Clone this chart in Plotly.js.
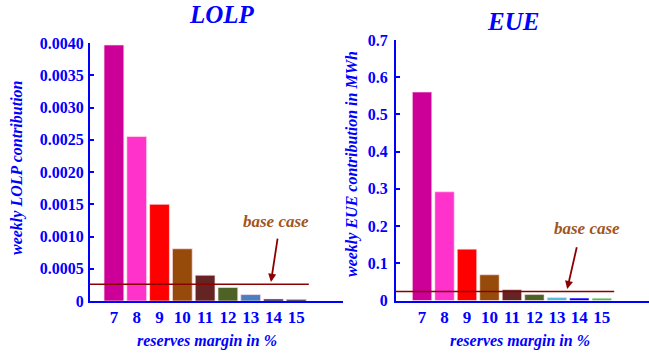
<!DOCTYPE html>
<html>
<head>
<meta charset="utf-8">
<script src="https://cdn.plot.ly/plotly-3.0.1.min.js"></script>
<style>html,body{margin:0;padding:0;background:#fff;}#chart{width:649px;height:353px;}</style>
</head>
<body>
<div id="chart"></div>
<script>
const categories = [7, 8, 9, 10, 11, 12, 13, 14, 15];
const lolpValues = [0.00397, 0.00255, 0.0015, 0.00081, 0.0004, 0.00021, 0.0001, 0.00003, 0.000025];
const eueValues = [0.56, 0.292, 0.138, 0.069, 0.029, 0.016, 0.008, 0.0065, 0.006];
const lolpColors = ['#CC0099','#FF33CC','#FF0000','#964B0A','#642424','#4D6326','#4A80C0','#00003A','#000022'];
const eueColors = ['#CC0099','#FF33CC','#FF0000','#964B0A','#642424','#4D6326','#55BBDD','#0000FF','#33CC44'];
const lolpTickVals = [0, 0.0005, 0.001, 0.0015, 0.002, 0.0025, 0.003, 0.0035, 0.004];
const lolpTickText = ['0','0.0005','0.0010','0.0015','0.0020','0.0025','0.0030','0.0035','0.0040'];
const eueTickVals = [0, 0.1, 0.2, 0.3, 0.4, 0.5, 0.6, 0.7];
const eueTickText = ['0','0.1','0.2','0.3','0.4','0.5','0.6','0.7'];
const baseLOLP = 0.00026;
const baseEUE = 0.024;

const BLUE = '#0000FF';
const SERIF = 'Liberation Serif, Times New Roman, serif';
const yTickFont = {family: SERIF, size: 16, color: BLUE, weight: 'bold'};
const xTickFont = {family: SERIF, size: 17, color: BLUE, weight: 'bold'};
const labelFont = {family: SERIF, size: 16, color: BLUE, weight: 'bold', style: 'italic'};
const titleFont = {family: SERIF, size: 25, color: BLUE, weight: 'bold', style: 'italic'};
const noteFont = {family: SERIF, size: 17, color: '#A0561E', weight: 'bold', style: 'italic'};

const xL = [5.95, 17.05];
const xR = [5.84, 17.1];

const traces = [
  {type: 'bar', x: categories, y: lolpValues, xaxis: 'x', yaxis: 'y',
   marker: {color: lolpColors, line: {color: 'rgba(255,225,235,0.9)', width: 0.8}}, width: 0.87, showlegend: false},
  {type: 'bar', x: categories, y: eueValues, xaxis: 'x2', yaxis: 'y2',
   marker: {color: eueColors, line: {color: 'rgba(255,225,235,0.9)', width: 0.6}}, width: 0.86, showlegend: false},
  {type: 'scatter', mode: 'lines', x: [xL[0], 15.55], y: [baseLOLP, baseLOLP], xaxis: 'x', yaxis: 'y',
   line: {color: '#8B0000', width: 1.5}, showlegend: false, hoverinfo: 'skip'},
  {type: 'scatter', mode: 'lines', x: [xR[0], 15.55], y: [baseEUE, baseEUE], xaxis: 'x2', yaxis: 'y2',
   line: {color: '#8B0000', width: 1.5}, showlegend: false, hoverinfo: 'skip'}
];

const axisCommon = {showline: true, linecolor: BLUE, linewidth: 2, showgrid: false, zeroline: false, fixedrange: true};

const layout = {
  width: 649, height: 353,
  margin: {l: 0, r: 0, t: 0, b: 0},
  paper_bgcolor: '#fff', plot_bgcolor: '#fff',
  showlegend: false,
  xaxis: Object.assign({}, axisCommon, {domain: [90/649, 343/649], range: xL, tickvals: categories, ticktext: categories.map(String),
    ticks: '', tickfont: xTickFont, anchor: 'y'}),
  yaxis: Object.assign({}, axisCommon, {domain: [1-301/353, 1-43/353], range: [0, 0.004], tickvals: lolpTickVals, ticktext: lolpTickText,
    ticks: 'inside', ticklen: 4, tickwidth: 2, tickcolor: BLUE, tickfont: yTickFont, anchor: 'x', ticklabelstandoff: 1}),
  xaxis2: Object.assign({}, axisCommon, {domain: [396/649, 1], range: xR, tickvals: categories, ticktext: categories.map(String),
    ticks: '', tickfont: xTickFont, anchor: 'y2'}),
  yaxis2: Object.assign({}, axisCommon, {domain: [1-300.5/353, 1-40/353], range: [0, 0.7], tickvals: eueTickVals, ticktext: eueTickText,
    ticks: 'inside', ticklen: 4, tickwidth: 2, tickcolor: BLUE, tickfont: yTickFont, anchor: 'x2', ticklabelstandoff: 3}),
  annotations: [
    {text: 'LOLP', xref: 'paper', yref: 'paper', x: 222/649, y: 1-14/353, xanchor: 'center', yanchor: 'middle', showarrow: false, font: titleFont},
    {text: 'EUE', xref: 'paper', yref: 'paper', x: 513/649, y: 1-21/353, xanchor: 'center', yanchor: 'middle', showarrow: false, font: titleFont},
    {text: 'weekly LOLP contribution', xref: 'paper', yref: 'paper', x: 17/649, y: 1-168/353, xanchor: 'center', yanchor: 'middle',
     textangle: -90, showarrow: false, font: labelFont},
    {text: 'weekly EUE contribution in MWh', xref: 'paper', yref: 'paper', x: 352/649, y: 1-164/353, xanchor: 'center', yanchor: 'middle',
     textangle: -90, showarrow: false, font: labelFont},
    {text: 'reserves margin in %', xref: 'paper', yref: 'paper', x: 207/649, y: 1-341/353, xanchor: 'center', yanchor: 'middle',
     showarrow: false, font: labelFont},
    {text: 'reserves margin in %', xref: 'paper', yref: 'paper', x: 520/649, y: 1-341/353, xanchor: 'center', yanchor: 'middle',
     showarrow: false, font: labelFont},
    {text: 'base case', xref: 'x', yref: 'y', x: 14.1, y: 0.00124, xanchor: 'center', yanchor: 'middle', showarrow: false, font: noteFont},
    {text: '', xref: 'x', yref: 'y', x: 13.89, y: 0.000295, axref: 'x', ayref: 'y', ax: 14.19, ay: 0.00099,
     showarrow: true, arrowhead: 2, arrowsize: 0.9, arrowwidth: 1.8, arrowcolor: '#8B0000'},
    {text: 'base case', xref: 'x2', yref: 'y2', x: 14.35, y: 0.193, xanchor: 'center', yanchor: 'middle', showarrow: false, font: noteFont},
    {text: '', xref: 'x2', yref: 'y2', x: 13.46, y: 0.0306, axref: 'x2', ayref: 'y2', ax: 13.9, ay: 0.147,
     showarrow: true, arrowhead: 2, arrowsize: 0.9, arrowwidth: 1.8, arrowcolor: '#8B0000'}
  ]
};

Plotly.newPlot('chart', traces, layout, {staticPlot: true, displayModeBar: false});
</script>
</body>
</html>
